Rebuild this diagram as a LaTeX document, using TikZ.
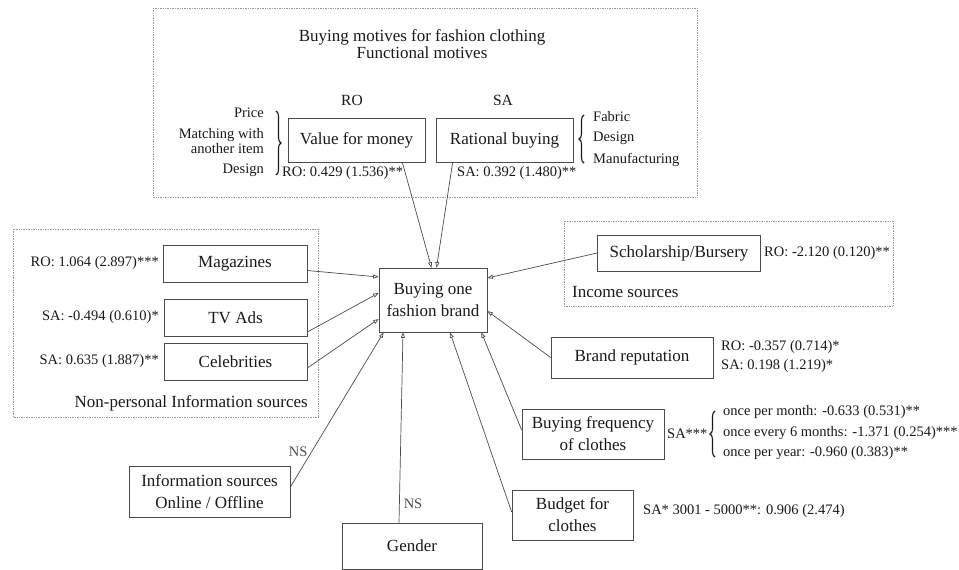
\documentclass[tikz,border=0pt]{standalone}
\usepackage{fontspec}
\setmainfont{Liberation Serif}
\usetikzlibrary{arrows.meta,calc,decorations.pathreplacing}

\begin{document}
\begin{tikzpicture}[
    x=1pt, y=-1pt,
    font=\fontsize{17}{22}\selectfont, color=black!90,
    factor/.style={draw=black!70, line width=0.7pt, inner sep=0pt, align=center},
    coef/.style={font=\fontsize{14.5}{17.5}\selectfont, inner sep=0pt, align=left},
    group/.style={draw=black!40, densely dotted, line width=0.7pt},
    curly/.style={decorate, decoration={brace, amplitude=5pt}, line width=1.1pt},
    link/.style={-{Triangle[open, length=5.5pt, width=4pt]}, line width=0.7pt, black!70}
]
\useasboundingbox (0,0) rectangle (959,570);

% dotted groups
\draw[group] (153,8) rectangle (697,197);
\draw[group] (13,229) rectangle (318,417);
\draw[group] (564,221) rectangle (893,306);

% functional motives
\node[align=center, font=\fontsize{17}{17.5}\selectfont] (title) at (422,44)
    {Buying motives for fashion clothing\\Functional motives};
\node[font=\fontsize{15.5}{18}\selectfont] (ro) at (352,100) {RO};
\node[font=\fontsize{15.5}{18}\selectfont] (sa) at (503,100) {SA};
\node[factor, minimum width=137, minimum height=44] (value)    at (356.5,140) {Value for money};
\node[factor, minimum width=137, minimum height=44] (rational) at (504.5,140) {Rational buying};
\node[coef, anchor=west] (valcoef) at (282,173) {RO: 0.429 (1.536)**};
\node[coef, anchor=west] (ratcoef) at (457,173) {SA: 0.392 (1.480)**};

\node[coef, anchor=east] (price)  at (264,113) {Price};
\node[coef, anchor=east, align=right, font=\fontsize{14.5}{15.5}\selectfont] (match) at (264,141)
    {Matching with\\another item};
\node[coef, anchor=east] (design) at (264,170) {Design};
\draw[curly] (276,111) -- (276,175);

\node[coef, anchor=west, font=\fontsize{14.5}{20}\selectfont] (fabric) at (593,139)
    {Fabric\\Design\\[2pt]Manufacturing};
\draw[curly] (584,163) -- (584,115);

% central factor
\node[factor, minimum width=108, minimum height=64] (brand) at (433,300) {Buying one\\fashion brand};

% non-personal information sources
\node[factor, minimum width=144, minimum height=37] (mags)  at (235,263.5) {Magazines};
\node[factor, minimum width=143, minimum height=37] (tv)    at (235.5,317.5) {TV Ads};
\node[factor, minimum width=143, minimum height=37] (celeb) at (235.5,361.5) {Celebrities};
\node[coef, anchor=east] (magscoef)  at (159,263.5) {RO: 1.064 (2.897)***};
\node[coef, anchor=east] (tvcoef)    at (159,317.5) {SA: -0.494 (0.610)*};
\node[coef, anchor=east] (celebcoef) at (159,361.5) {SA: 0.635 (1.887)**};
\node[anchor=east, inner sep=0pt] (nonpers) at (308,403) {Non-personal Information sources};

% income sources
\node[factor, minimum width=163, minimum height=36] (schol) at (679,253) {Scholarship/Bursery};
\node[coef, anchor=west] (scholcoef) at (764,253) {RO: -2.120 (0.120)**};
\node[anchor=west, inner sep=0pt] (income) at (572,292) {Income sources};

% other factors
\node[factor, minimum width=162, minimum height=41] (reput) at (632,357.5) {Brand reputation};
\node[coef, anchor=west, font=\fontsize{14.5}{19}\selectfont] (reputcoef) at (721,356.5)
    {RO: -0.357 (0.714)*\\SA: 0.198 (1.219)*};

\node[factor, minimum width=142, minimum height=50] (freq) at (593,434) {Buying frequency\\of clothes};
\node[coef, anchor=west] (freqsa) at (667,434) {SA***};
\draw[curly] (715,457) -- (715,411);
\node[coef, anchor=west, font=\fontsize{14.5}{20.5}\selectfont] (freqcoef) at (723,433)
    {once per month: -0.633 (0.531)**\\once every 6 months: -1.371 (0.254)***\\once per year: -0.960 (0.383)**};

\node[factor, minimum width=121, minimum height=50] (budget) at (572.5,515) {Budget for\\clothes};
\node[coef, anchor=west] (budgetcoef) at (643,511) {SA* 3001 - 5000**: 0.906 (2.474)};

\node[factor, minimum width=140, minimum height=46] (gender) at (412,546) {Gender};
\node[factor, minimum width=161, minimum height=51] (info) at (209.5,491.5) {Information sources\\Online / Offline};

% links into the central factor
\draw[link] ($(value.south east)+(-23,0)$) -- ($(brand.north)+(-1.5,0)$);
\draw[link] ($(rational.south west)+(17,0)$) -- ($(brand.north)+(3.5,0)$);
\draw[link] ($(mags.east)+(0,7)$) -- ($(brand.west)+(0,-23)$);
\draw[link] ($(tv.east)+(0,14.5)$) -- ($(brand.west)+(0,-7)$);
\draw[link] ($(celeb.east)+(0,6.5)$) -- ($(brand.west)+(0,19)$);
\draw[link] (schol.west) -- ($(brand.east)+(0,-22)$);
\draw[link] (reput.west) -- ($(brand.east)+(0,11)$);
\draw[link] ($(freq.west)+(0,-4)$) -- ($(brand.south east)+(-6,0)$);
\draw[link] ($(budget.west)+(0,-3)$) -- ($(brand.south)+(17,0)$);
\draw[link] ($(gender.north)+(-13,0)$) -- node[coef, pos=0.1, right=4pt] {NS} ($(brand.south)+(-30,0)$);
\draw[link] ($(info.east)+(0,-4.5)$) -- node[coef, pos=0.23, left=4pt] {NS} ($(brand.south west)+(5,0)$);

\end{tikzpicture}
\end{document}
